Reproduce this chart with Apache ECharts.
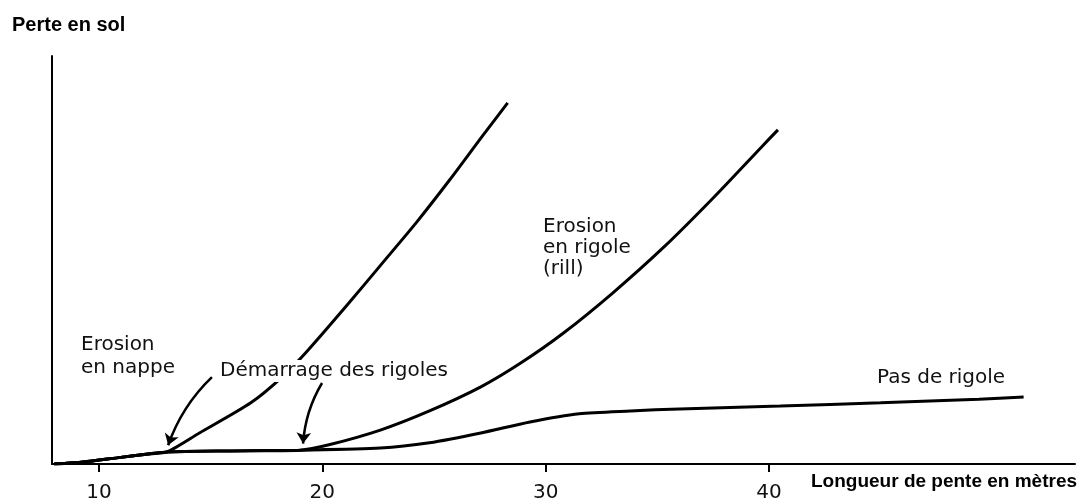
<!DOCTYPE html>
<html>
<head>
<meta charset="utf-8">
<script src="https://cdn.jsdelivr.net/npm/echarts@6/dist/echarts.min.js"></script>
<style>
  html, body { margin: 0; padding: 0; background: #fff; }
  #chart { width: 1080px; height: 500px; }
</style>
</head>
<body>
<div id="chart"></div>
<script>
// values: slope length (m) vs soil loss (no unit, 0..100)
const xTicks = [10, 20, 30, 40];

// shared start, all three curves
const sheetX = [8.0, 9.3, 10.8, 12.3, 13.05];
const sheetY = [0, 0.5, 1.5, 2.5, 2.95];

// rills starting at ~13 m
const earlyX = [14.5, 16.8, 18.2, 19.3, 21.2, 22.7, 24.2, 25.7, 27.2, 28.3];
const earlyY = [7.6, 15.0, 21.3, 27.5, 39.5, 49.3, 59.1, 69.6, 80.6, 88.5];

// erosion en rigole (rill), starting at ~19 m
const rillX = [15.9, 19.0, 20.3, 22.6, 24.8, 27.1, 28.9, 30.8, 33.0, 35.3, 37.5, 39.7, 40.4];
const rillY = [3.2, 3.4, 4.7, 8.3, 13.0, 18.9, 24.8, 32.1, 41.9, 53.2, 65.2, 77.9, 81.9];

// pas de rigole
const noRillX = [15.9, 19.0, 22.6, 24.8, 27.1, 29.3, 31.5, 33.8, 36.0, 40.5, 45.0, 49.4, 51.4];
const noRillY = [3.2, 3.4, 3.9, 5.2, 7.6, 10.3, 12.3, 13.0, 13.5, 14.2, 15.0, 15.9, 16.4];

// arrows pointing at where the rills start
const arrows = [
  [[15.06, 21.3], [13.1, 4.6]],
  [[19.99, 19.85], [19.14, 5.0]]
];

const pairs = (xs, ys) => xs.map((x, i) => [x, ys[i]]);
const head = pairs(sheetX, sheetY);

const chart = echarts.init(document.getElementById('chart'));

const curve = (name, data) => ({
  name: name,
  type: 'line',
  data: data,
  smooth: 0.25,
  symbol: 'none',
  lineStyle: { color: '#000', width: 3 },
  z: 3
});

const noteFont = '20px "DejaVu Sans"';

const option = {
  animation: false,
  backgroundColor: '#fff',
  grid: { left: 52, right: 5, top: 56, bottom: 36, outerBoundsMode: 'none' },
  xAxis: {
    type: 'value',
    min: 7.9,
    max: 53.7,
    axisLine: { lineStyle: { color: '#000', width: 2 } },
    axisTick: {
      show: true,
      customValues: xTicks,
      length: 8,
      lineStyle: { color: '#000', width: 2 }
    },
    axisLabel: {
      customValues: xTicks,
      margin: 19,
      color: '#111',
      fontFamily: 'DejaVu Sans',
      fontSize: 20
    },
    splitLine: { show: false }
  },
  yAxis: {
    type: 'value',
    min: 0,
    max: 100,
    axisLine: { show: true, lineStyle: { color: '#000', width: 2 } },
    axisTick: { show: false },
    axisLabel: { show: false },
    splitLine: { show: false }
  },
  series: [
    curve('Démarrage à 13 m', head.concat(pairs(earlyX, earlyY))),
    curve('Erosion en rigole (rill)', head.concat(pairs(rillX, rillY))),
    curve('Pas de rigole', head.concat(pairs(noRillX, noRillY))),
    {
      type: 'lines',
      coordinateSystem: 'cartesian2d',
      symbol: ['none', 'arrow'],
      symbolSize: 11,
      lineStyle: { color: '#000', width: 2.5, curveness: -0.12, opacity: 1 },
      data: arrows.map(a => ({ coords: a })),
      z: 4
    }
  ],
  graphic: [
    { type: 'text', x: 12, y: 25,
      style: { text: 'Perte en sol', font: 'bold 20px "Liberation Sans"', fill: '#000', verticalAlign: 'middle' } },
    { type: 'text', x: 811, y: 482,
      style: { text: 'Longueur de pente en mètres', font: 'bold 19px "Liberation Sans"', fill: '#000', verticalAlign: 'middle' } },
    { type: 'text', x: 81, y: 356,
      style: { text: 'Erosion\nen nappe', font: noteFont, lineHeight: 23, fill: '#111', verticalAlign: 'middle' } },
    { type: 'text', x: 216, y: 371, z: 10,
      style: { text: 'Démarrage des rigoles', font: noteFont, fill: '#111', verticalAlign: 'middle',
               backgroundColor: '#fff', padding: [1, 4] } },
    { type: 'text', x: 543, y: 248,
      style: { text: 'Erosion\nen rigole\n(rill)', font: noteFont, lineHeight: 21, fill: '#111', verticalAlign: 'middle' } },
    { type: 'text', x: 877, y: 378,
      style: { text: 'Pas de rigole', font: noteFont, fill: '#111', verticalAlign: 'middle' } }
  ]
};

chart.setOption(option);
</script>
</body>
</html>
